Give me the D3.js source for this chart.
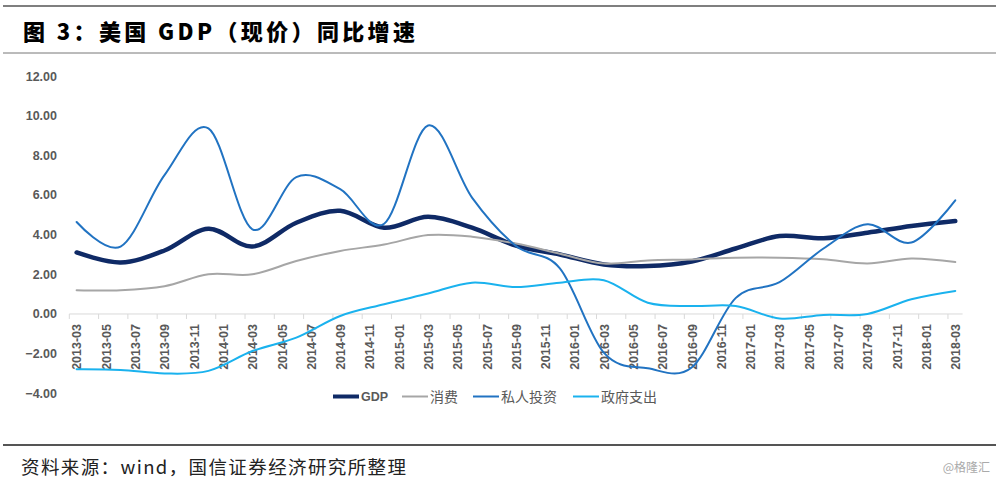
<!DOCTYPE html>
<html><head><meta charset="utf-8">
<script src="https://cdn.jsdelivr.net/npm/d3@7/dist/d3.min.js"></script>
<style>
html,body{margin:0;padding:0;background:#fff;}
svg{display:block;}
</style></head>
<body>
<svg id="c" width="1000" height="485"></svg>
<script>
// ---- data ----
const quarters = ["2013-03","2013-06","2013-09","2013-12","2014-03","2014-06","2014-09","2014-12",
  "2015-03","2015-06","2015-09","2015-12","2016-03","2016-06","2016-09","2016-12",
  "2017-03","2017-06","2017-09","2017-12","2018-03"];
const gdp =         [3.1, 2.6, 3.2, 4.3, 3.4, 4.6, 5.2, 4.35, 4.9, 4.35, 3.45, 3.0, 2.5, 2.42, 2.65, 3.3, 3.93, 3.82, 4.1, 4.44, 4.69];
const consumption = [1.2, 1.2, 1.4, 2.0, 2.0, 2.67, 3.18, 3.5, 3.98, 3.9, 3.55, 3.04, 2.54, 2.7, 2.75, 2.84, 2.84, 2.76, 2.55, 2.8, 2.62];
const privateInv =  [4.64, 3.4, 7.0, 9.36, 4.27, 6.9, 6.29, 4.55, 9.5, 5.87, 3.43, 2.3, -1.95, -2.74, -2.7, 0.8, 1.6, 3.3, 4.52, 3.6, 5.73];
const govSpending = [-2.79, -2.82, -3.0, -2.87, -1.87, -1.19, -0.1, 0.49, 1.03, 1.58, 1.36, 1.58, 1.7, 0.57, 0.4, 0.4, -0.23, -0.05, 0.0, 0.74, 1.16];
const xTickLabels = ["2013-03","2013-05","2013-07","2013-09","2013-11","2014-01","2014-03","2014-05","2014-07","2014-09","2014-11",
  "2015-01","2015-03","2015-05","2015-07","2015-09","2015-11","2016-01","2016-03","2016-05","2016-07","2016-09","2016-11",
  "2017-01","2017-03","2017-05","2017-07","2017-09","2017-11","2018-01","2018-03"];
const yTicks = [-4, -2, 0, 2, 4, 6, 8, 10, 12];
const seriesNames = ["GDP", "消费", "私人投资", "政府支出"];
const seriesColors = ["#0f2a66", "#a6a6a6", "#2173c2", "#1ab2ee"];
const seriesWidths = [4.5, 2, 2, 2];
const titleText = "图 3：美国 GDP（现价）同比增速";
const sourceText = "资料来源：wind，国信证券经济研究所整理";
const watermark = "@格隆汇";

// ---- scales ----
const fmt = d3.timeFormat("%Y-%m"), parse = d3.timeParse("%Y-%m");
const months = d3.timeMonth.range(parse(quarters[0]), d3.timeMonth.offset(parse(quarters[quarters.length-1]), 1)).map(fmt);
const x = d3.scaleBand().domain(months).range([69.3, 962.6]).paddingInner(0).paddingOuter(0);
const xc = m => x(m) + x.bandwidth() / 2;
const y = d3.scaleLinear().domain([-4, 12]).range([393.3, 76]);

const svg = d3.select("#c");
const CJK = "'Noto Sans CJK SC','Noto Sans',sans-serif";
const LAT = "'Liberation Sans',Arial,sans-serif";

// frame lines
svg.append("line").attr("x1", 3).attr("x2", 996).attr("y1", 6).attr("y2", 6).attr("stroke", "#555").attr("stroke-width", 1.6);
svg.append("line").attr("x1", 3).attr("x2", 996).attr("y1", 53).attr("y2", 53).attr("stroke", "#777").attr("stroke-width", 1);
svg.append("line").attr("x1", 3).attr("x2", 996).attr("y1", 445).attr("y2", 445).attr("stroke", "#555").attr("stroke-width", 2);

// title
svg.append("text").attr("x", 23).attr("y", 40).attr("font-family", CJK).attr("font-weight", "900")
  .attr("font-size", 22).attr("fill", "#000").attr("textLength", 392).attr("lengthAdjust", "spacing").text(titleText);

// footer
svg.append("text").attr("x", 21).attr("y", 474).attr("font-family", CJK).attr("font-size", 18.5)
  .attr("fill", "#222").attr("textLength", 385).attr("lengthAdjust", "spacing").text(sourceText);
svg.append("text").attr("x", 990).attr("y", 472).attr("text-anchor", "end").attr("font-family", CJK).attr("font-size", 12)
  .attr("fill", "#aaa").text(watermark);

// y axis labels (no line)
const yAxis = d3.axisLeft(y).tickValues(yTicks).tickFormat(d3.format(".2f")).tickSize(0).tickPadding(0);
const gy = svg.append("g").attr("transform", "translate(57,0)").call(yAxis);
gy.select(".domain").remove();
gy.selectAll("text").attr("font-family", LAT).attr("font-size", 12.5).attr("fill", "#595959").attr("font-weight", "bold");

// x axis at y=0
const tickMonths = xTickLabels;
const gx = svg.append("g").attr("transform", `translate(0,${y(0)})`);
gx.append("line").attr("x1", x.range()[0]).attr("x2", x.range()[1]).attr("stroke", "#d9d9d9").attr("stroke-width", 1);
gx.selectAll("line.tick").data(tickMonths).join("line").attr("class", "tick")
  .attr("x1", d => x(d)).attr("x2", d => x(d)).attr("y1", 0).attr("y2", 5).attr("stroke", "#d9d9d9");
gx.selectAll("text").data(tickMonths).join("text")
  .attr("transform", d => `translate(${xc(d) + 0.5},10) rotate(-90)`)
  .attr("text-anchor", "end").attr("dy", "0.35em")
  .attr("font-family", LAT).attr("font-size", 12.5).attr("font-weight", "bold").attr("fill", "#595959").text(d => d);

// lines
const allSeries = [gdp, consumption, privateInv, govSpending];
const line = d3.line().x((d, i) => xc(quarters[i])).y(d => y(d)).curve(d3.curveCatmullRom.alpha(0));
allSeries.forEach((s, k) => {
  svg.append("path").datum(s).attr("d", line).attr("fill", "none")
    .attr("stroke", seriesColors[k]).attr("stroke-width", seriesWidths[k]).attr("stroke-linejoin", "round").attr("stroke-linecap", "round");
});

// legend
const legendX = [333, 402, 473, 573];
const lg = svg.append("g");
seriesNames.forEach((n, k) => {
  lg.append("line").attr("x1", legendX[k]).attr("x2", legendX[k] + 26).attr("y1", 396.5).attr("y2", 396.5)
    .attr("stroke", seriesColors[k]).attr("stroke-width", seriesWidths[k] === 4.5 ? 4 : 2);
  lg.append("text").attr("x", legendX[k] + 28).attr("y", 396.5).attr("dy", "0.36em")
    .attr("font-family", k === 0 ? LAT : CJK).attr("font-size", k === 0 ? 12.5 : 14)
    .attr("font-weight", k === 0 ? "bold" : "normal").attr("fill", "#595959").text(n);
});
</script>
</body></html>
